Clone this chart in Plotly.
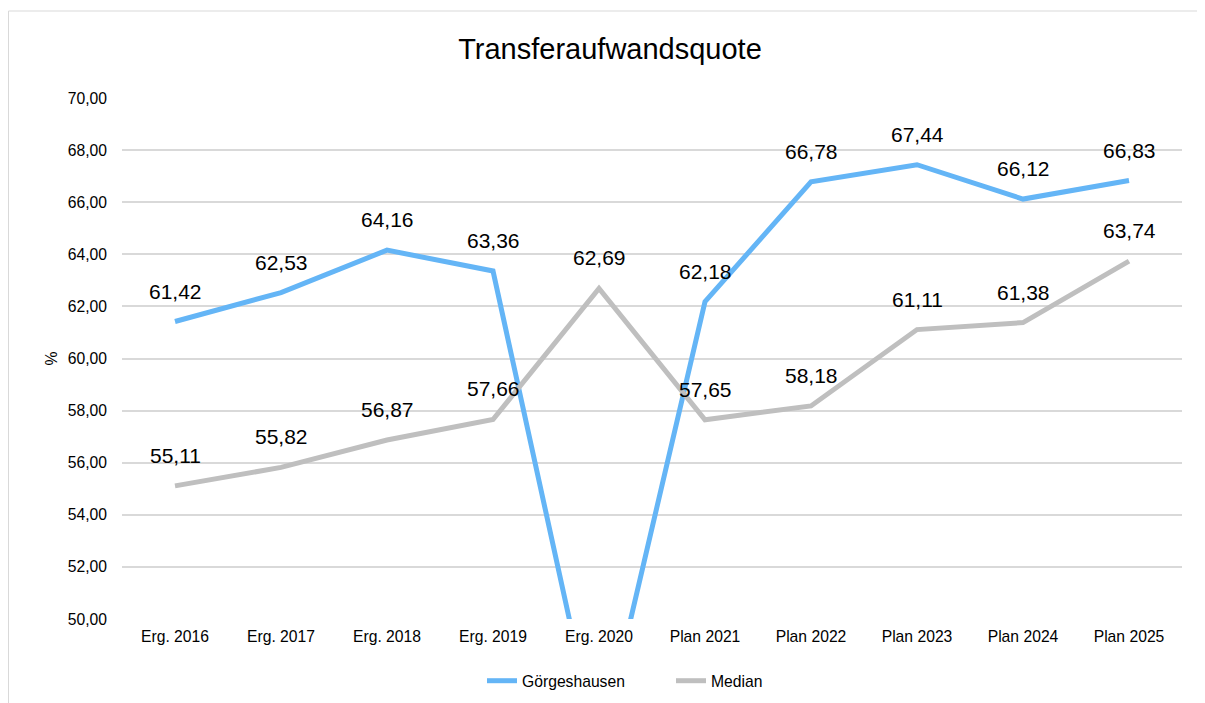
import plotly.graph_objects as go

categories = ["Erg. 2016", "Erg. 2017", "Erg. 2018", "Erg. 2019", "Erg. 2020",
              "Plan 2021", "Plan 2022", "Plan 2023", "Plan 2024", "Plan 2025"]
goergeshausen = [61.42, 62.53, 64.16, 63.36, 44.8, 62.18, 66.78, 67.44, 66.12, 66.83]
median = [55.11, 55.82, 56.87, 57.66, 62.69, 57.65, 58.18, 61.11, 61.38, 63.74]
y_min, y_max = 50, 70

FONT = "Liberation Sans, Arial, sans-serif"
BLUE = "#64B5F6"
GREY = "#BFBFBF"

# page body has an 8px margin; margins below compensate for it
L, R, T, B = 114, 31, 90, 92
W, H = 1205, 703
plot_w = W - L - R
plot_h = H - T - B

fig = go.Figure()
fig.add_trace(go.Scatter(x=categories, y=goergeshausen, mode="lines", name="Görgeshausen",
                         line=dict(color=BLUE, width=5)))
fig.add_trace(go.Scatter(x=categories, y=median, mode="lines", name="Median",
                         line=dict(color=GREY, width=5)))

def fmt(v):
    return f"{v:.2f}".replace(".", ",")

for series in (goergeshausen, median):
    for c, v in zip(categories, series):
        if y_min <= v <= y_max:
            fig.add_annotation(x=c, y=v, text=fmt(v), showarrow=False,
                               yanchor="bottom", yshift=17,
                               font=dict(family=FONT, size=21, color="#000000"))

# chart-area border
fig.add_shape(type="rect", xref="paper", yref="paper",
              x0=(0.5 - L) / plot_w, x1=(W + 20 - L) / plot_w,
              y0=-(B + 20) / plot_h, y1=(H - 3 - B) / plot_h,
              line=dict(color="#D9D9D9", width=1), layer="below")

fig.update_layout(
    width=W, height=H,
    paper_bgcolor="white", plot_bgcolor="white",
    separators=",.",
    margin=dict(l=L, r=R, t=T, b=B),
    font=dict(family=FONT, color="#000000", size=15.7),
    title=dict(text="Transferaufwandsquote", x=(610 - 8 - L) / plot_w, xref="paper",
               xanchor="center",
               y=1 - 41 / H, yref="container", yanchor="middle",
               font=dict(family=FONT, size=29, color="#000000")),
    xaxis=dict(showgrid=False, showline=False, ticks="", zeroline=False,
               range=[-0.5, len(categories) - 0.5], ticklabelstandoff=6,
               tickfont=dict(size=15.7, color="#000000")),
    yaxis=dict(range=[y_min, y_max], dtick=2, tickformat=".2f",
               showgrid=True, gridcolor="#D9D9D9", gridwidth=2, zeroline=False,
               showline=False, ticks="", ticklabelstandoff=14,
               tickfont=dict(size=15.7, color="#000000"),
               title=dict(text="%", font=dict(size=15.7, color="#000000"), standoff=6)),
    legend=dict(orientation="h", x=(482 - 8 - L) / plot_w, xanchor="left",
                y=-(673 - (H - B)) / plot_h, yanchor="middle",
                entrywidth=144, entrywidthmode="pixels",
                font=dict(size=15.7, color="#000000")),
    showlegend=True,
)

fig.write_html("out.html")
